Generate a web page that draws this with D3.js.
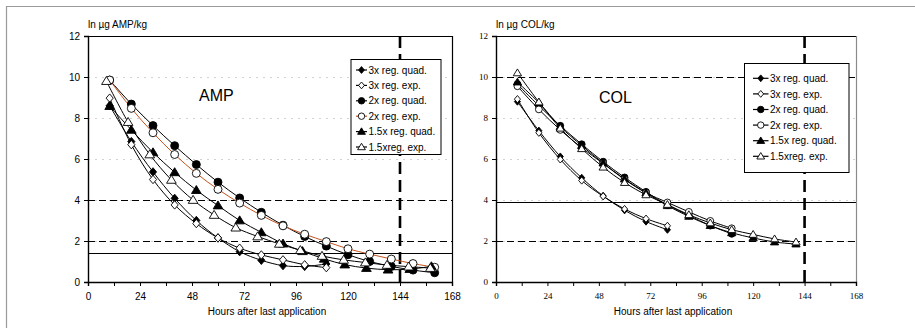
<!DOCTYPE html>
<html>
<head>
<meta charset="utf-8">
<script src="https://cdn.jsdelivr.net/npm/d3@7/dist/d3.min.js"></script>
<style>
  html, body { margin: 0; padding: 0; background: #fff; }
  svg { display: block; font-family: "Liberation Sans", Arial, sans-serif; }
</style>
</head>
<body>
<svg id="chart" width="915" height="328"></svg>
<script>
// ---- Shared axis values ----
const xTicks = [0, 12, 24, 36, 48, 60, 72, 84, 96, 108, 120, 132, 144, 156, 168];
const yTicks = [0, 2, 4, 6, 8, 10, 12];
const gridValues = [2, 4, 6, 8, 10];
const legendLabels = ["3x reg. quad.", "3x reg. exp.", "2x reg. quad.", "2x reg. exp.", "1.5x reg. quad.", "1.5xreg. exp."];
const xTitle = "Hours after last application";

// ---- AMP (ln µg AMP/kg) ----
const ampX3 = [10, 20, 30, 40, 50, 60, 70, 80, 90, 100, 110];
const ampQuad3 = [8.6, 6.85, 5.37, 4.08, 3.0, 2.15, 1.48, 1.06, 0.8, 0.76, 0.88];
const ampExp3 = [8.97, 6.7, 5.0, 3.76, 2.85, 2.15, 1.65, 1.32, 1.08, 0.84, 0.7];
const ampX2 = [10, 20, 30, 40, 50, 60, 70, 80, 90, 100, 110, 120, 130, 140, 150, 160];
const ampQuad2 = [9.85, 8.68, 7.63, 6.65, 5.73, 4.87, 4.1, 3.4, 2.77, 2.22, 1.75, 1.33, 1.0, 0.76, 0.58, 0.45];
const ampExp2 = [9.85, 8.47, 7.28, 6.22, 5.3, 4.52, 3.85, 3.25, 2.74, 2.33, 1.97, 1.62, 1.36, 1.12, 0.9, 0.72];
const ampX15q = [10, 20, 30, 40, 50, 60, 70, 80, 90, 99, 109, 118.5, 128.5, 138.5, 148.5, 158.5];
const ampQuad15 = [8.58, 7.42, 6.32, 5.35, 4.48, 3.73, 3.0, 2.42, 1.87, 1.5, 1.13, 0.85, 0.68, 0.6, 0.63, 0.76];
const ampX15e = [8.5, 18.5, 28.5, 38.5, 48.5, 58.2, 68.2, 78.3, 88.3, 98, 108, 118, 128, 138, 148, 158];
const ampExp15 = [9.8, 7.8, 6.22, 4.98, 4.0, 3.27, 2.65, 2.22, 1.86, 1.55, 1.27, 1.08, 0.95, 0.83, 0.75, 0.68];
const ampDashed = [4, 2];
const ampSolid = [1.4];

// ---- COL (ln µg COL/kg) ----
const colX3 = [10, 20, 30, 40, 50, 60, 70, 80];
const colQuad3 = [8.8, 7.38, 6.12, 5.08, 4.2, 3.5, 2.95, 2.55];
const colExp3 = [8.92, 7.28, 5.98, 4.95, 4.18, 3.56, 3.09, 2.74];
const colX2 = [10, 20, 30, 40, 50, 60, 70, 80, 90, 100, 110];
const colQuad2 = [9.65, 8.6, 7.62, 6.72, 5.87, 5.1, 4.4, 3.75, 3.25, 2.75, 2.35];
const colExp2 = [9.55, 8.42, 7.42, 6.55, 5.78, 5.0, 4.35, 3.88, 3.42, 2.98, 2.62];
const colX15 = [10, 20, 30, 40, 50, 60, 70, 80, 90, 100, 110, 120, 130, 140];
const colQuad15 = [9.75, 8.75, 7.58, 6.65, 5.8, 5.02, 4.35, 3.72, 3.2, 2.75, 2.4, 2.15, 1.95, 1.85];
const colExp15 = [10.2, 8.78, 7.5, 6.5, 5.6, 4.85, 4.25, 3.78, 3.28, 2.88, 2.55, 2.32, 2.1, 1.95];
const colDashed = [10, 2];
const colSolid = [3.9];

const withdrawalHour = 144;

const svg = d3.select("#chart");

// outer frame (top and left edges)
svg.append("line").attr("x1", 6).attr("y1", 6.5).attr("x2", 915).attr("y2", 6.5)
  .attr("stroke", "#9a9a9a").attr("stroke-width", 1.2);
svg.append("line").attr("x1", 6.5).attr("y1", 6).attr("x2", 6.5).attr("y2", 328)
  .attr("stroke", "#9a9a9a").attr("stroke-width", 1.2);

function zip(xs, ys) { return xs.map((x, i) => [x, ys[i]]); }

function marker(g, type, cx, cy, s) {
  const fill = type.filled ? "#000" : "#fff";
  if (type.shape === "diamond") {
    g.append("path")
      .attr("d", `M${cx},${cy - s}L${cx + s * 0.85},${cy}L${cx},${cy + s}L${cx - s * 0.85},${cy}Z`)
      .attr("fill", fill).attr("stroke", "#000").attr("stroke-width", 0.9);
  } else if (type.shape === "circle") {
    g.append("circle").attr("cx", cx).attr("cy", cy).attr("r", s * 0.95)
      .attr("fill", fill).attr("stroke", "#000").attr("stroke-width", 0.9);
  } else {
    const h = s * 1.9, w = s * 1.15;
    g.append("path")
      .attr("d", `M${cx},${cy - h * 0.58}L${cx + w},${cy + h * 0.42}L${cx - w},${cy + h * 0.42}Z`)
      .attr("fill", fill).attr("stroke", "#000").attr("stroke-width", 0.9);
  }
}

function drawPanel(cfg) {
  const x = d3.scaleLinear().domain([0, 168]).range([cfg.left, cfg.right]);
  const y = d3.scaleLinear().domain([0, 12]).range([cfg.bottom, cfg.top]);
  const g = svg.append("g");
  const py = v => Math.round(y(v)) + 0.5;

  // dotted grid
  g.selectAll(".grid").data(gridValues).join("line")
    .attr("x1", cfg.left).attr("x2", cfg.right)
    .attr("y1", py).attr("y2", py)
    .attr("stroke", "#d2d2d2").attr("stroke-width", 1).attr("stroke-dasharray", "2,5");

  // plot frame (top and right)
  g.append("line").attr("x1", cfg.left).attr("x2", cfg.right).attr("y1", cfg.top + 0.5).attr("y2", cfg.top + 0.5)
    .attr("stroke", "#000").attr("stroke-width", 1.2);
  g.append("line").attr("x1", cfg.right + 0.5).attr("x2", cfg.right + 0.5).attr("y1", cfg.top).attr("y2", cfg.bottom)
    .attr("stroke", cfg.rightColor).attr("stroke-width", 1.2);

  // reference levels
  g.selectAll(".dash").data(cfg.dashed).join("line")
    .attr("x1", cfg.left).attr("x2", cfg.right)
    .attr("y1", py).attr("y2", py)
    .attr("stroke", "#000").attr("stroke-width", 1.2).attr("stroke-dasharray", "7,4")
    .attr("shape-rendering", "crispEdges");
  g.selectAll(".solid").data(cfg.solid).join("line")
    .attr("x1", cfg.left).attr("x2", cfg.right)
    .attr("y1", py).attr("y2", py)
    .attr("stroke", "#000").attr("stroke-width", 1.3)
    .attr("shape-rendering", "crispEdges");

  // axes
  const ya = d3.axisLeft(y).tickValues(yTicks).tickSize(4).tickPadding(4).tickFormat(d3.format("d"));
  const yg = g.append("g").attr("transform", `translate(${cfg.left},0)`).call(ya);
  const xa = d3.axisBottom(x).tickValues(xTicks).tickSize(4).tickPadding(7)
    .tickFormat(d => d % 24 === 0 ? d : "");
  const xg = g.append("g").attr("transform", `translate(0,${cfg.bottom})`).call(xa);
  [yg, xg].forEach(a => {
    a.select(".domain").attr("stroke", "#000").attr("stroke-width", 1.4);
    a.selectAll(".tick line").attr("stroke", "#000");
    a.selectAll(".tick text").attr("fill", "#000")
      .style("font-family", cfg.tickFont).style("font-size", cfg.tickSize + "px");
  });

  // withdrawal time marker
  g.append("line").attr("x1", x(withdrawalHour)).attr("x2", x(withdrawalHour))
    .attr("y1", cfg.top).attr("y2", cfg.bottom)
    .attr("stroke", "#000").attr("stroke-width", 2.6)
    .attr("stroke-dasharray", "12,6").attr("stroke-dashoffset", cfg.vOffset);

  // series
  const line = d3.line().x(d => x(d[0])).y(d => y(d[1])).curve(d3.curveCatmullRom.alpha(0.5));
  cfg.series.forEach(s => {
    g.append("path").attr("d", line(zip(s.xs, s.ys)))
      .attr("fill", "none").attr("stroke", s.color).attr("stroke-width", 1);
  });
  cfg.series.forEach(s => {
    zip(s.xs, s.ys).forEach(p => marker(g, s, x(p[0]), y(p[1]), cfg.markerSize));
  });

  // panel name
  g.append("text").attr("x", cfg.nameX).attr("y", cfg.nameY)
    .attr("font-size", 16).attr("fill", "#000").text(cfg.name);

  // y unit label
  g.append("text").attr("x", cfg.left).attr("y", 28)
    .attr("font-size", 10).attr("fill", "#000").text(cfg.unit);

  // x title
  g.append("text").attr("x", (cfg.left + cfg.right) / 2 - 3).attr("y", 315)
    .attr("text-anchor", "middle").attr("font-size", 10).attr("fill", "#000").text(xTitle);

  // legend
  const lg = g.append("g");
  lg.append("rect").attr("x", cfg.legX).attr("y", cfg.legY).attr("width", cfg.legW).attr("height", cfg.legH)
    .attr("fill", "#fff").attr("stroke", "#000").attr("stroke-width", 1);
  cfg.series.forEach((s, i) => {
    const ry = cfg.legY + cfg.legRow0 + i * cfg.legStep;
    lg.append("line").attr("x1", cfg.legX + cfg.symX0).attr("x2", cfg.legX + cfg.symX1)
      .attr("y1", ry).attr("y2", ry).attr("stroke", s.color).attr("stroke-width", 1.2);
    marker(lg, s, cfg.legX + (cfg.symX0 + cfg.symX1) / 2, ry, cfg.legMarker);
    lg.append("text").attr("x", cfg.legX + cfg.symX1 + 1.5).attr("y", ry + 3.6)
      .attr("font-size", 10).attr("fill", "#000").text(legendLabels[i]);
  });
}

const orange = "#c4531f";

drawPanel({
  name: "AMP", unit: "ln µg AMP/kg",
  left: 88, right: 452, top: 36, bottom: 282,
  rightColor: "#000", tickFont: "Liberation Sans", tickSize: 10, vOffset: 0,
  nameX: 199, nameY: 101, markerSize: 4.2,
  dashed: ampDashed, solid: ampSolid,
  legX: 351, legY: 59.5, legW: 90, legH: 95, legRow0: 10.5, legStep: 15.4,
  symX0: 5, symX1: 16, legMarker: 3.4,
  series: [
    { xs: ampX3, ys: ampQuad3, shape: "diamond", filled: true, color: "#000" },
    { xs: ampX3, ys: ampExp3, shape: "diamond", filled: false, color: "#000" },
    { xs: ampX2, ys: ampQuad2, shape: "circle", filled: true, color: "#000" },
    { xs: ampX2, ys: ampExp2, shape: "circle", filled: false, color: orange },
    { xs: ampX15q, ys: ampQuad15, shape: "triangle", filled: true, color: "#000" },
    { xs: ampX15e, ys: ampExp15, shape: "triangle", filled: false, color: "#000" }
  ]
});

drawPanel({
  name: "COL", unit: "ln µg COL/kg",
  left: 496, right: 856, top: 36, bottom: 282,
  rightColor: "#8a8a8a", tickFont: "Liberation Sans Narrow", tickSize: 9, vOffset: 0,
  nameX: 599, nameY: 103, markerSize: 3.6,
  dashed: colDashed, solid: colSolid,
  legX: 744.5, legY: 63.5, legW: 104.5, legH: 109, legRow0: 14.8, legStep: 15.6,
  symX0: 8.5, symX1: 24, legMarker: 3.4,
  series: [
    { xs: colX3, ys: colQuad3, shape: "diamond", filled: true, color: "#000" },
    { xs: colX3, ys: colExp3, shape: "diamond", filled: false, color: "#000" },
    { xs: colX2, ys: colQuad2, shape: "circle", filled: true, color: "#000" },
    { xs: colX2, ys: colExp2, shape: "circle", filled: false, color: "#000" },
    { xs: colX15, ys: colQuad15, shape: "triangle", filled: true, color: "#000" },
    { xs: colX15, ys: colExp15, shape: "triangle", filled: false, color: "#000" }
  ]
});
</script>
</body>
</html>
